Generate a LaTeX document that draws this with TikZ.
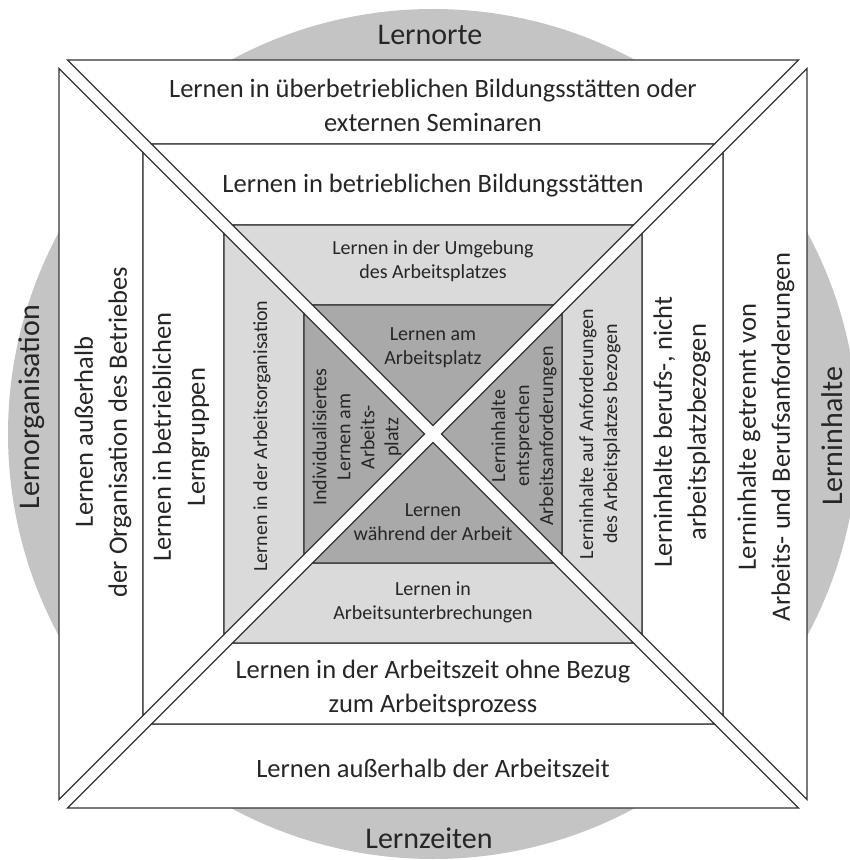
\documentclass[tikz,border=0pt]{standalone}
\usepackage{fontspec}
\setmainfont{Carlito}
\definecolor{ringgray}{HTML}{DADADA}
\definecolor{coregray}{HTML}{A9A9A9}
\definecolor{discgray}{HTML}{C4C4C4}
\definecolor{inkgray}{HTML}{262626}
\tikzset{
  field/.style={draw=black!80, line width=1.1pt, line join=miter},
  mainlabel/.style={font=\fontsize{30}{34}\selectfont, text=inkgray},
  ringtext/.style={font=\fontsize{26.5}{34}\selectfont, text=inkgray, align=center},
  coretext/.style={font=\fontsize{20}{24}\selectfont, text=inkgray, align=center},
}

\begin{document}
\begin{tikzpicture}[x=1pt, y=1pt]
  \useasboundingbox (-433,-426) rectangle (417,434);
  \clip (-433,-426) rectangle (417,434);
  \fill[discgray] (0,0) circle (425);
  \fill[white] (-374,-374) rectangle (374,374);
  % four sides, rings from outside in; \gap keeps the diagonals open
  \def\gap{8.5}
  \foreach \ang in {0,90,180,270} {
    \begin{scope}[rotate=\ang]
      \foreach \rout/\rin/\fillc in {374/290/white, 290/209/white, 209/129/ringgray, 129/8.5/coregray}
        \filldraw[field, fill=\fillc] (-\rout+\gap,\rout) -- (\rout-\gap,\rout) -- (\rin-\gap,\rin) -- (-\rin+\gap,\rin) -- cycle;
    \end{scope}
  }
  % labels on the disc
  \node[mainlabel] (orte) at (-3,399) {Lernorte};
  \node[mainlabel] (zeiten) at (-4,-404) {Lernzeiten};
  \node[mainlabel, rotate=90] (organisation) at (-401,27) {Lernorganisation};
  \node[mainlabel, rotate=90] (inhalte) at (399,-2) {Lerninhalte};
  % Lernorte
  \node[ringtext] (ortA) at (0,329) {Lernen in überbetrieblichen Bildungsstätten oder\\externen Seminaren};
  \node[ringtext] (ortB) at (0,248) {Lernen in betrieblichen Bildungsstätten};
  \node[coretext] (ortC) at (0,173) {Lernen in der Umgebung\\des Arbeitsplatzes};
  \node[coretext] (ortD) at (0,86) {Lernen am\\Arbeitsplatz};
  % Lernzeiten
  \node[ringtext] (zeitA) at (0,-334) {Lernen außerhalb der Arbeitszeit};
  \node[ringtext] (zeitB) at (0,-254) {Lernen in der Arbeitszeit ohne Bezug\\zum Arbeitsprozess};
  \node[coretext] (zeitC) at (0,-168) {Lernen in\\Arbeitsunterbrechungen};
  \node[coretext] (zeitD) at (0,-88) {Lernen\\während der Arbeit};
  % Lernorganisation
  \node[ringtext, rotate=90] (orgA) at (-330,2) {Lernen außerhalb\\der Organisation des Betriebes};
  \node[ringtext, rotate=90] (orgB) at (-252,-3) {Lernen in betrieblichen\\Lerngruppen};
  \node[coretext, rotate=90] (orgC) at (-171,-2) {Lernen in der Arbeitsorganisation};
  \node[coretext, rotate=90] (orgD) at (-76,-3) {Individualisiertes\\Lernen am\\Arbeits-\\platz};
  % Lerninhalte
  \node[ringtext, rotate=90] (inhA) at (333,-3) {Lerninhalte getrennt von\\Arbeits- und Berufsanforderungen};
  \node[ringtext, rotate=90] (inhB) at (249,2) {Lerninhalte berufs-, nicht\\arbeitsplatzbezogen};
  \node[coretext, rotate=90] (inhC) at (167,0) {Lerninhalte auf Anforderungen\\des Arbeitsplatzes bezogen};
  \node[coretext, rotate=90] (inhD) at (91,-2) {Lerninhalte\\entsprechen\\Arbeitsanforderungen};
\end{tikzpicture}
\end{document}
